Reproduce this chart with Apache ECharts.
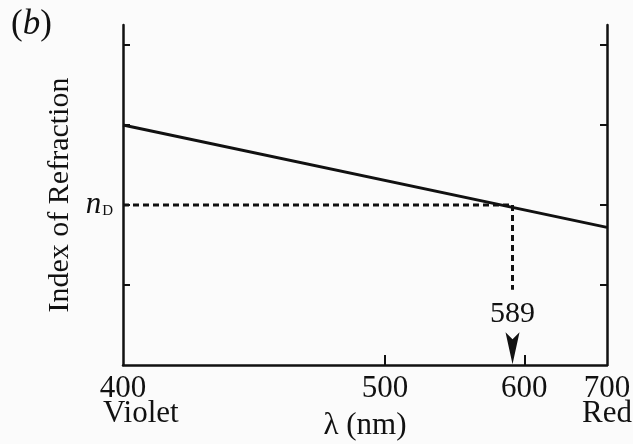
<!DOCTYPE html>
<html>
<head>
<meta charset="utf-8">
<script src="https://cdn.jsdelivr.net/npm/echarts@6/dist/echarts.min.js"></script>
<style>
html,body{margin:0;padding:0;background:#fbfbfb;}
#c{width:633px;height:444px;}
</style>
</head>
<body>
<div id="c"></div>
<script>
// ---- data ----
const lambdaPts = [400, 700];          // nm, ends of the dispersion line
const indexPts = [3.0, 1.72];          // index of refraction (arbitrary units, axis unlabelled)
const sodiumD = [589];                 // nm
const nDValue = [2];                   // index at sodium D line
const xTickLabels = [400, 500, 600, 700];
const xTickMarks = [500, 600];
const yTickMarks = [1, 2, 3, 4];
const xEndNames = ['Violet', 'Red'];

// axis is linear in 1/λ^p (Cauchy-type scale)
const P = 2.1;
const A = Math.pow(400, -P), B = Math.pow(700, -P);
function u(l) { return (A - Math.pow(l, -P)) / (A - B); }
function labelFor(v) {
  let best = xTickLabels[0], d = 1e9;
  xTickLabels.forEach(l => { const dd = Math.abs(u(l) - v); if (dd < d) { d = dd; best = l; } });
  return String(best);
}

const serif = '"Liberation Serif", "DejaVu Serif", serif';
const ink = '#111';
const uD = u(sodiumD[0]);

const chart = echarts.init(document.getElementById('c'), null, {renderer: 'canvas'});
chart.setOption({
  backgroundColor: '#fbfbfb',
  animation: false,
  grid: {left: 123, right: 26, top: 25, bottom: 79, containLabel: false, outerBoundsMode: 'none'},
  xAxis: {
    type: 'value', min: 0, max: 1,
    name: 'λ (nm)', nameLocation: 'middle', nameGap: 45,
    nameTextStyle: {fontFamily: serif, fontSize: 31, color: ink},
    axisLine: {show: true, onZero: false, lineStyle: {color: ink, width: 2.5}},
    axisTick: {show: true, inside: true, length: 10, customValues: xTickMarks.map(u), lineStyle: {color: ink, width: 2}},
    axisLabel: {show: true, customValues: xTickLabels.map(u), formatter: labelFor, margin: 8,
      fontFamily: serif, fontSize: 31, color: ink},
    splitLine: {show: false}
  },
  yAxis: [{
    type: 'value', min: 0, max: 4.25, position: 'left',
    name: 'Index of Refraction', nameLocation: 'middle', nameGap: 47, nameRotate: 90,
    nameTextStyle: {fontFamily: serif, fontSize: 30, color: ink},
    axisLine: {show: true, onZero: false, lineStyle: {color: ink, width: 2.5}},
    axisTick: {show: true, inside: true, length: 7, customValues: yTickMarks, lineStyle: {color: ink, width: 2}},
    axisLabel: {show: true, customValues: nDValue, margin: 10,
      formatter: () => '{n|n}{d|D}',
      rich: {
        n: {fontFamily: serif, fontStyle: 'italic', fontSize: 31, color: ink},
        d: {fontFamily: serif, fontSize: 15, color: ink, padding: [12, 0, 0, 1]}
      }},
    splitLine: {show: false}
  }, {
    type: 'value', min: 0, max: 4.25, position: 'right',
    axisLine: {show: true, onZero: false, lineStyle: {color: ink, width: 2.5}},
    axisTick: {show: true, inside: true, length: 7, customValues: yTickMarks, lineStyle: {color: ink, width: 2}},
    axisLabel: {show: false},
    splitLine: {show: false}
  }],
  graphic: [
    {type: 'text', left: 103, top: 398, style: {text: xEndNames[0], font: '31px ' + serif, fill: ink}},
    {type: 'text', right: 1, top: 398, style: {text: xEndNames[1], font: '31px ' + serif, fill: ink}},
    {type: 'text', left: 11, top: 7, style: {text: '{p|(}{b|b}{p|)}', rich: {
      p: {fontFamily: serif, fontSize: 35, fill: ink},
      b: {fontFamily: serif, fontSize: 35, fontStyle: 'italic', fill: ink}
    }}}
  ],
  series: [
    {
      type: 'line', symbol: 'none', silent: true,
      data: lambdaPts.map((l, i) => [u(l), indexPts[i]]),
      lineStyle: {color: ink, width: 3}
    },
    {
      type: 'line', symbol: 'none', silent: true,
      data: [[u(lambdaPts[0]), nDValue[0]], [uD, nDValue[0]]],
      lineStyle: {color: ink, width: 3, type: [6, 4]}
    },
    {
      type: 'line', symbol: 'none', silent: true,
      data: [[uD, nDValue[0]], [uD, 0.94]],
      lineStyle: {color: ink, width: 3, type: [6, 4]}
    },
    {
      type: 'scatter', silent: true, symbolSize: 0,
      data: [[uD, 0.64]],
      itemStyle: {opacity: 1},
      label: {show: true, position: 'inside', formatter: String(sodiumD[0]),
        fontFamily: serif, fontSize: 30, color: ink, opacity: 1}
    },
    {
      type: 'scatter', silent: true,
      symbol: 'path://M0,0 L7,7 L14,0 L7,32 Z', symbolSize: [14, 32],
      data: [[uD, 0.21]],
      itemStyle: {color: ink, opacity: 1}
    }
  ]
});
</script>
</body>
</html>
